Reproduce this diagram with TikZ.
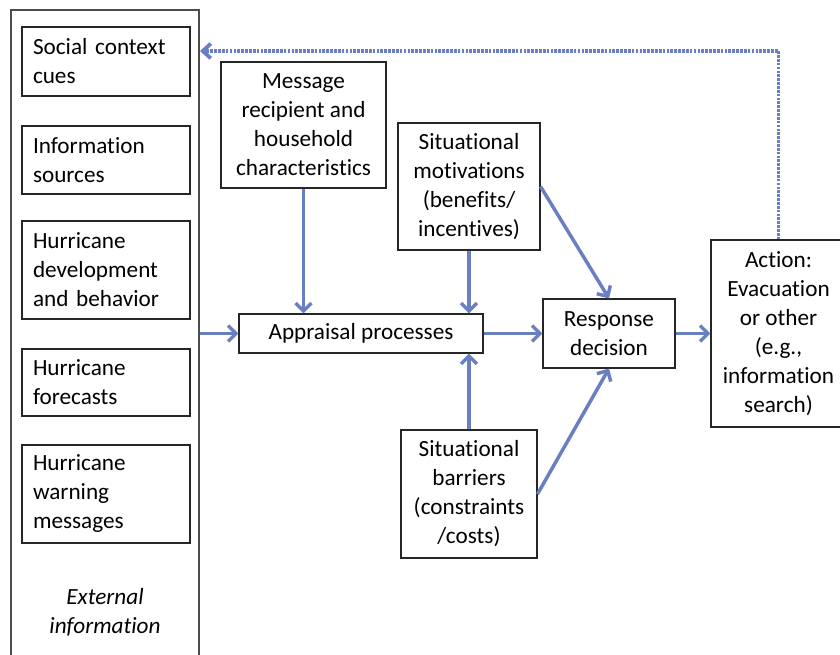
\documentclass[tikz,border=0pt]{standalone}
\usepackage{fontspec}
\setmainfont{Carlito}[Ligatures=NoCommon]
\usetikzlibrary{arrows.meta}
\definecolor{arr}{RGB}{106,127,194}
\begin{document}
\begin{tikzpicture}[x=0.75pt,y=-0.75pt,
  box/.style={draw=black!85, line width=0.8pt, font=\fontsize{17.4}{21.75}\selectfont, inner sep=0pt, align=center},
  lbox/.style={box, minimum width=126pt, text width=109.5pt, align=left, inner xsep=8.25pt},
  arrow/.style={draw=arr, line width=2.6pt, -{Straight Barb[length=6pt,width=12pt]}},
  dotarrow/.style={draw=arr, line width=2.8pt, dash pattern=on 2pt off 0.9pt, -{Straight Barb[length=6pt,width=11pt]}}
]
\useasboundingbox (0,0) rectangle (840,655);
\fill[white] (0,0) rectangle (840,655);
% outer external box
\node[draw=black!70, line width=0.8pt, minimum width=141pt, minimum height=491.25pt, inner sep=0pt] (ext) at (105,337.5) {};
% left boxes
\node[lbox, minimum height=51.75pt] (social) at (106,61.5) {Social context\\cues};
\node[lbox, minimum height=51pt] (info) at (106,160) {Information\\sources};
\node[lbox, minimum height=73.5pt] (dev) at (106,270) {Hurricane\\development\\and behavior};
\node[lbox, minimum height=50.25pt] (fore) at (106,382.5) {Hurricane\\forecasts};
\node[lbox, minimum height=73.5pt] (warn) at (106,494) {Hurricane\\warning\\messages};
\node[font=\fontsize{17.4}{21.75}\selectfont\itshape, align=center] (extlab) at (105,612) {External\\information};
% middle
\node[box, minimum width=123.75pt, minimum height=94.5pt] (msg) at (303.5,125) {Message\\recipient and\\household\\characteristics};
\node[box, minimum width=106.5pt, minimum height=95.25pt] (motiv) at (469,186.5) {Situational\\motivations\\(benefits/\\incentives)};
\node[box, minimum width=183pt, minimum height=29.25pt] (appr) at (361,333.5) {Appraisal processes};
\node[box, minimum width=99pt, minimum height=51.75pt] (resp) at (609,333.5) {Response\\decision};
\node[box, minimum width=102pt, minimum height=96pt] (barr) at (469,494) {Situational\\barriers\\(constraints\\/costs)};
\node[box, minimum width=101.25pt, minimum height=140.25pt] (action) at (778.5,333.5) {Action:\\Evacuation\\or other\\(e.g.,\\information\\search)};
% arrows
\draw[arrow] (ext.east |- appr.west) -- (appr.west);
\draw[arrow] (msg.south) -- (msg.south |- appr.north);
\draw[arrow] (motiv.south) -- (motiv.south |- appr.north);
\draw[arrow] (barr.north) -- (barr.north |- appr.south);
\draw[arrow] (appr.east) -- (resp.west);
\draw[arrow] (motiv.east) -- (resp.north);
\draw[arrow] (barr.east) -- (resp.south);
\draw[arrow] (resp.east) -- (action.west);
\coordinate (fb) at (200,51);
\draw[dotarrow] (action.north) |- (fb);
\end{tikzpicture}
\end{document}
